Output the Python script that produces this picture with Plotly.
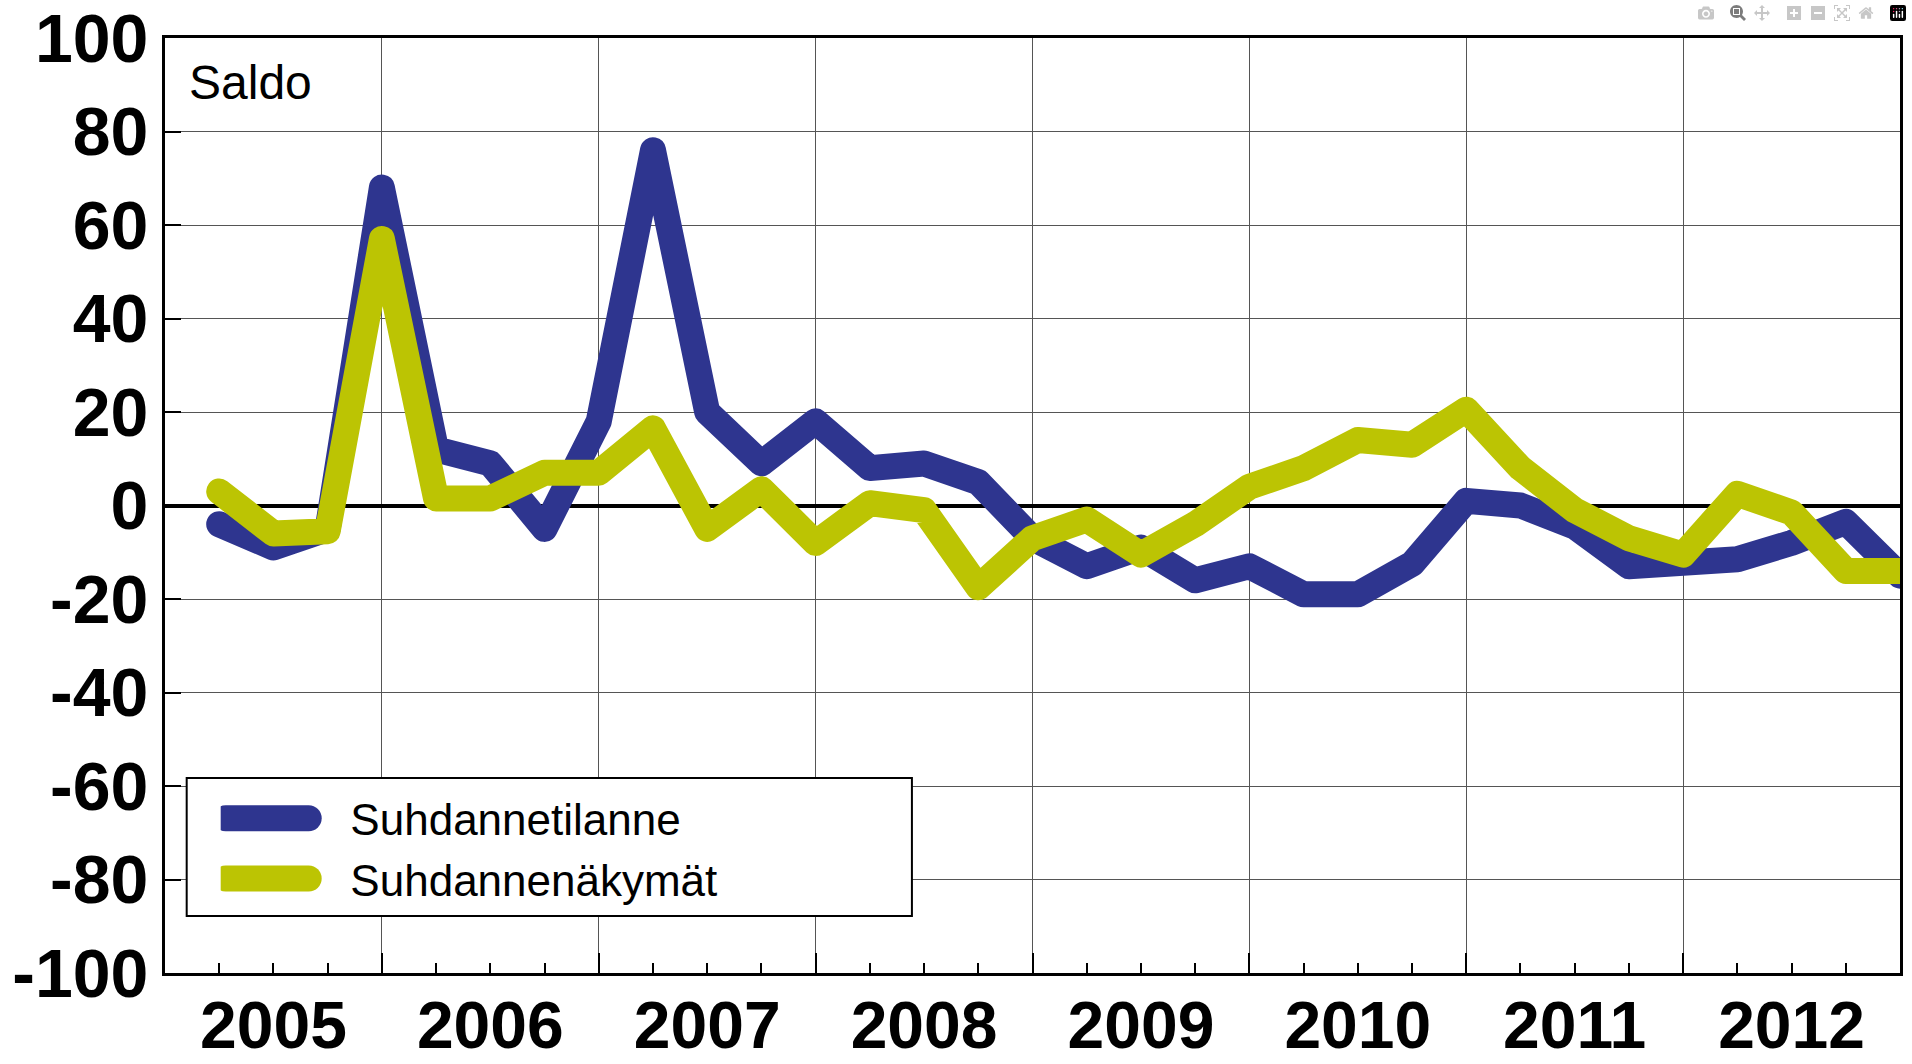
import plotly.graph_objects as go

# ---- data ----
years = ["2005", "2006", "2007", "2008", "2009", "2010", "2011", "2012"]
quarters = list(range(1, 33))  # quarter index from start of 2005 (end of each quarter)
suhdannetilanne = [-4, -9, -5, 68, 12, 9, -5, 18,
                   76, 20, 9, 18, 8, 9, 5, -7,
                   -13, -9, -16, -13, -19, -19, -12.5, 1,
                   0, -4.5, -13, -12.5, -11.5, -8, -3.5, -15]
suhdannenakymat = [3, -6, -5.5, 57, 1.5, 1.5, 7, 7,
                   16.5, -5, 3.5, -8, 0.5, -1, -17.5, -7,
                   -3, -10.5, -4, 4, 8, 14, 13, 20.5,
                   8, -1, -7, -10.5, 2.5, -1.5, -14, -14]
y_ticks = [-100, -80, -60, -40, -20, 0, 20, 40, 60, 80, 100]
y_ticktext = [str(v) for v in y_ticks]

BLUE = "#2e358f"
YELLOW = "#bcc403"
FONT = "Liberation Sans, Arial, sans-serif"
NB = "\u00a0\u00a0\u00a0"

fig = go.Figure()
fig.add_trace(go.Scatter(x=quarters, y=suhdannetilanne, mode="lines",
                         name=NB + "Suhdannetilanne",
                         line=dict(color=BLUE, width=26)))
fig.add_trace(go.Scatter(x=quarters, y=suhdannenakymat, mode="lines",
                         name=NB + "Suhdannenäkymät", xaxis="x2",
                         line=dict(color=YELLOW, width=26)))

n_q = len(quarters)
year_bounds = list(range(4, n_q, 4))
year_centers = [4 * i + 2 for i in range(len(years))]

fig.update_layout(
    width=1912, height=1064,
    margin=dict(l=165, r=12, t=38, b=91),
    paper_bgcolor="white", plot_bgcolor="white",
    font=dict(family=FONT, color="black"),
    xaxis=dict(range=[0, n_q], tickvals=year_bounds, showticklabels=False,
               ticks="inside", ticklen=20, tickwidth=2, tickcolor="black",
               showgrid=True, gridcolor="#555555", gridwidth=1,
               showline=True, linecolor="black", linewidth=3, mirror=True,
               zeroline=False, automargin=False,
               minor=dict(dtick=1, tick0=0, ticks="inside", ticklen=10,
                          tickwidth=1.5, tickcolor="black", showgrid=False)),
    xaxis2=dict(range=[0, n_q], overlaying="x", anchor="y", side="bottom",
                tickvals=year_centers, ticktext=years, ticks="",
                showgrid=False, showline=False, zeroline=False, automargin=False,
                ticklabelstandoff=8, ticklabeloverflow="allow",
                tickfont=dict(family=FONT, size=66, color="black", weight="bold")),
    yaxis=dict(range=[-100, 100], tickvals=y_ticks, ticktext=y_ticktext,
               ticks="inside", ticklen=16, tickwidth=2, tickcolor="black",
               showgrid=True, gridcolor="#555555", gridwidth=1,
               showline=True, linecolor="black", linewidth=3, mirror=True,
               zeroline=True, zerolinecolor="black", zerolinewidth=4,
               automargin=False, ticklabeloverflow="allow",
               tickfont=dict(family=FONT, size=68, color="black", weight="bold")),
    legend=dict(x=0.0321, y=0.203, xanchor="left", yanchor="top",
                bgcolor="rgba(0,0,0,0)", borderwidth=0,
                font=dict(family=FONT, size=44, color="black"),
                itemwidth=83, tracegroupgap=0),
    shapes=[dict(type="rect", xref="paper", yref="paper",
                 x0=0.0125, x1=0.4305, y0=0.061, y1=0.2086,
                 line=dict(color="black", width=2), fillcolor="white",
                 layer="above")],
    annotations=[dict(text="Saldo", xref="paper", yref="paper",
                      x=0.0125, y=0.952, xanchor="left", yanchor="middle",
                      showarrow=False,
                      font=dict(family=FONT, size=48, color="black"))],
)

post = """
document.body.style.margin='0';
document.querySelectorAll('.scatterlayer .js-line').forEach(function(p){
  p.style.strokeLinejoin='round'; p.style.strokeLinecap='round';
});
document.querySelectorAll('.legend path.js-line').forEach(function(p){
  p.style.strokeLinejoin='round'; p.style.strokeLinecap='round';
  p.style.strokeWidth='26px';
});
"""
fig.write_html("out.html", post_script=post)
